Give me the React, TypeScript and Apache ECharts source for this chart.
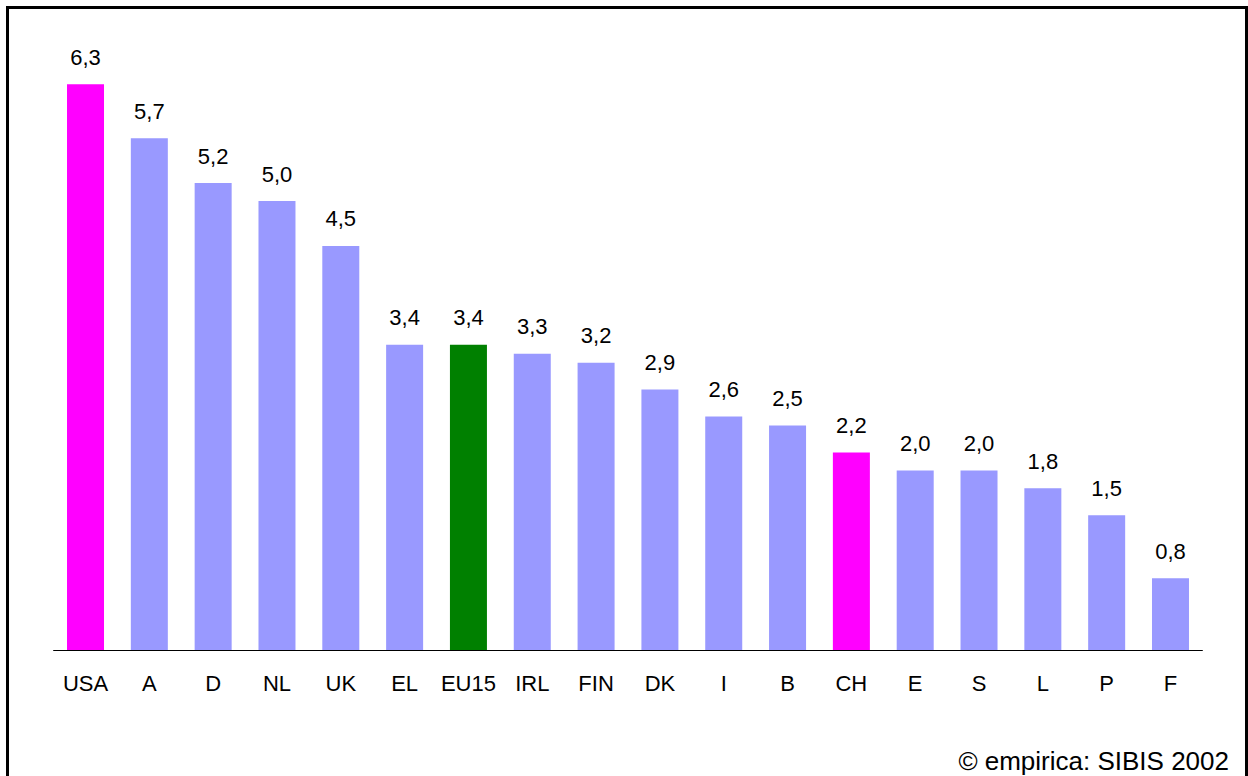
import React, { useEffect, useRef } from "react";
import * as echarts from "echarts";

const categories = ["USA", "A", "D", "NL", "UK", "EL", "EU15", "IRL", "FIN", "DK", "I", "B", "CH", "E", "S", "L", "P", "F"];
const values = [6.3, 5.7, 5.2, 5.0, 4.5, 3.4, 3.4, 3.3, 3.2, 2.9, 2.6, 2.5, 2.2, 2.0, 2.0, 1.8, 1.5, 0.8];
const highlighted = ["USA", "CH"];
const reference = ["EU15"];
const sourceNote = "© empirica: SIBIS 2002";

const FONT = "'Liberation Sans', Arial, Helvetica, sans-serif";

export default function App() {
  const ref = useRef<HTMLDivElement>(null);
  useEffect(() => {
    if (!ref.current) return;
    const chart = echarts.init(ref.current, null, { renderer: "svg" });
    const colorFor = (c: string) =>
      highlighted.includes(c) ? "#FF00FF" : reference.includes(c) ? "#008000" : "#9999FF";
    chart.setOption({
      animation: false,
      backgroundColor: "#ffffff",
      textStyle: { fontFamily: FONT },
      grid: { left: 53.6, right: 45.6, top: 21.4, bottom: 126 },
      xAxis: {
        type: "category",
        data: categories,
        axisTick: { show: false },
        axisLine: { show: true, lineStyle: { color: "#000000", width: 1 } },
        axisLabel: { margin: 22, fontSize: 22, color: "#000000", fontFamily: FONT, interval: 0 },
      },
      yAxis: {
        type: "value",
        min: 0,
        max: 7,
        show: false,
        splitLine: { show: false },
      },
      series: [
        {
          type: "bar",
          barWidth: 37,
          data: categories.map((c, i) => ({
            value: values[i],
            itemStyle: { color: colorFor(c) },
          })),
          label: {
            show: true,
            position: "top",
            distance: 16,
            fontSize: 22,
            color: "#000000",
            fontFamily: FONT,
            formatter: (p: any) => Number(p.value).toFixed(1).replace(".", ","),
          },
        },
      ],
      graphic: [
        {
          type: "rect",
          shape: { x: 7.5, y: 7.5, width: 1239, height: 820 },
          style: { fill: "none", stroke: "#000000", lineWidth: 3 },
          silent: true,
        },
        {
          type: "text",
          x: 1229,
          y: 761,
          style: {
            text: sourceNote,
            fontSize: 26,
            fontFamily: FONT,
            fill: "#000000",
            align: "right",
            verticalAlign: "middle",
          },
        },
      ],
    });
    return () => chart.dispose();
  }, []);
  return (
    <div
      ref={ref}
      style={{ position: "fixed", left: 0, top: 0, width: 1248, height: 776, background: "#fff" }}
    />
  );
}
